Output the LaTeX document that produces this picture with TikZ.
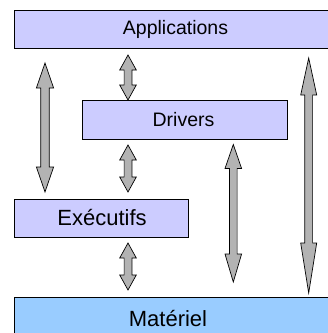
\documentclass[tikz,border=0pt]{standalone}
\usepackage{fontspec}
\setmainfont{Liberation Sans}
\definecolor{lav}{HTML}{CCCCFF}
\definecolor{hw}{HTML}{99CCFF}
\definecolor{arrgray}{HTML}{B3B3B3}
\tikzset{
  box/.style={draw=black, line width=0.9pt, rectangle, inner sep=0pt, anchor=north west},
  lbl/.style={font=\fontsize{19.5}{22}\selectfont, inner sep=0pt},
  lblbig/.style={font=\fontsize{22}{25}\selectfont, inner sep=0pt},
  arr/.style={draw=black, fill=arrgray, line width=0.7pt, line join=miter}
}
% #1 x, #2 top tip y, #3 bottom tip y, #4 top head length, #5 bottom head length, #6 head half width, #7 shaft half width
\newcommand\dblarrow[7]{%
  \draw[arr] (#1,#2) -- (#1+#6,#2+#4) -- (#1+#7,#2+#4) -- (#1+#7,#3-#5) -- (#1+#6,#3-#5)
    -- (#1,#3) -- (#1-#6,#3-#5) -- (#1-#7,#3-#5) -- (#1-#7,#2+#4) -- (#1-#6,#2+#4) -- cycle;}
\begin{document}
\begin{tikzpicture}[x=1pt,y=-1pt]
\useasboundingbox (0,0) rectangle (328,333);
\begin{scope}
\clip (0,0) rectangle (328,333);
\node[box, fill=lav, minimum width=330pt, minimum height=38pt] (app) at (14,10) {};
\node[box, fill=lav, minimum width=205pt, minimum height=39pt] (drv) at (82,100) {};
\node[box, fill=lav, minimum width=174pt, minimum height=38pt] (exe) at (14,199) {};
\node[box, fill=hw, minimum width=330pt, minimum height=45pt] (mat) at (14,297) {};
\end{scope}
\node[lbl] (appt) at (175.5,29) {Applications};
\node[lbl] (drvt) at (183.5,120) {Drivers};
\node[lblbig] (exet) at (102,218) {Exécutifs};
\node[lblbig] (matt) at (168,318.5) {Matériel};
\dblarrow{45}{63}{192}{25}{25}{8.6}{4.3}
\dblarrow{128}{55}{100}{15}{15}{8.3}{3.9}
\dblarrow{128}{145}{192}{15}{15}{8.3}{3.9}
\dblarrow{128}{243}{290}{15}{15}{8.3}{3.9}
\dblarrow{233.3}{144.5}{282}{24}{28}{8.3}{3.8}
\dblarrow{308.7}{58}{293}{37}{50}{8}{3.9}
\end{tikzpicture}
\end{document}
